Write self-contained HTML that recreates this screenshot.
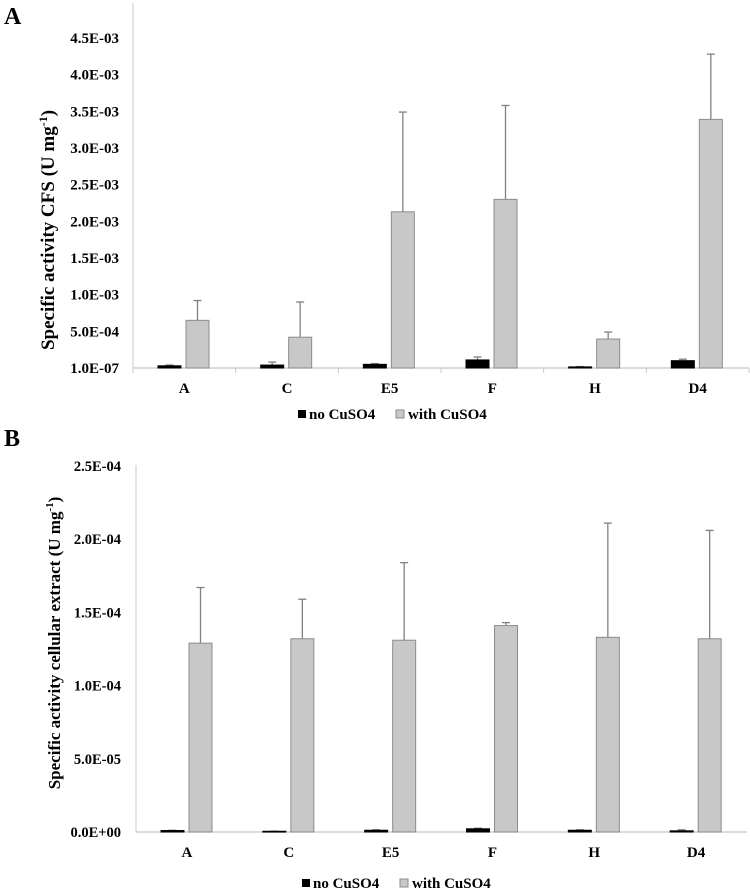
<!DOCTYPE html>
<html><head><meta charset="utf-8"><style>
body{margin:0;background:#fff;}
svg text{font-family:"Liberation Serif",serif;font-weight:bold;fill:#000;}
</style></head><body>
<svg id="chart" width="750" height="891" viewBox="0 0 750 891" xmlns="http://www.w3.org/2000/svg"></svg>
<script>
const categories=["A","C","E5","F","H","D4"];
const aNoCu=[3e-5,4e-5,5e-5,1.1e-4,1.5e-5,1.0e-4];
const aNoCuErr=[4e-5,8e-5,6e-5,1.5e-4,2e-5,1.2e-4];
const aWithCu=[6.5e-4,4.2e-4,2.13e-3,2.30e-3,3.95e-4,3.39e-3];
const aWithCuErr=[9.2e-4,9.0e-4,3.49e-3,3.58e-3,4.9e-4,4.28e-3];
const aTicks=["1.0E-07","5.0E-04","1.0E-03","1.5E-03","2.0E-03","2.5E-03","3.0E-03","3.5E-03","4.0E-03","4.5E-03"];
const bNoCu=[1e-6,5e-7,1.2e-6,2.2e-6,1.2e-6,8e-7];
const bNoCuErr=[1.2e-6,6e-7,1.5e-6,2.6e-6,1.5e-6,1.5e-6];
const bWithCu=[1.29e-4,1.32e-4,1.31e-4,1.41e-4,1.33e-4,1.32e-4];
const bWithCuErr=[1.67e-4,1.59e-4,1.84e-4,1.43e-4,2.11e-4,2.06e-4];
const bTicks=["0.0E+00","5.0E-05","1.0E-04","1.5E-04","2.0E-04","2.5E-04"];

const svg=document.getElementById('chart');
const NS="http://www.w3.org/2000/svg";
function mk(tag,attrs,parent){const e=document.createElementNS(NS,tag);for(const k in attrs)e.setAttribute(k,attrs[k]);(parent||svg).appendChild(e);return e;}

function panel(cfg){
  const g=mk('g',{});
  
  
  const {x0,x1,y0,yTop,max,step}=cfg;
  const y=v=>y0-(v/max)*(y0-yTop);
  const cw=(x1-x0)/categories.length;
  const ax=mk('line',{x1:x0,y1:cfg.axTop,x2:x0,y2:y0,stroke:'#c8c8c8','stroke-width':1},g);
  
  
  const bx=mk('line',{x1:x0,y1:y0,x2:x1,y2:y0,stroke:'#c8c8c8','stroke-width':1.2},g);
  
  
  cfg.ticks.forEach((t,i)=>{
    const tt=mk('text',{x:cfg.tickX,y:y(i*step)+5,'text-anchor':'end','font-size':cfg.tickSize},g);
    tt.textContent=t;
    
    
  });
  if(cfg.catTicks){
    for(let i=0;i<=categories.length;i++){
      mk('line',{x1:x0+i*cw,y1:y0,x2:x0+i*cw,y2:y0+5,stroke:'#c8c8c8'},g);
    }
  }
  categories.forEach((c,i)=>{
    const cx=x0+i*cw;
    const series=[[cfg.no,cfg.noErr,'#000','#000',25,'bar-no-cuso4'],[cfg.wi,cfg.wiErr,'#c8c8c8','#8c8c8c',53,'bar-with-cuso4']];
    series.forEach(([vals,errs,fill,stroke,off,nm])=>{
      const v=vals[i],e=errs[i];
      const ex=cx+off+11.5;
      const el=mk('line',{x1:ex,y1:y(v),x2:ex,y2:y(e),stroke:'#808080','stroke-width':1.3},g);
      
      
      mk('line',{x1:ex-4,y1:y(e),x2:ex+4,y2:y(e),stroke:'#808080','stroke-width':1.3},g);
      const r=mk('rect',{x:cx+off,y:y(v),width:23,height:Math.max(y0-y(v),0.8),fill:fill,stroke:stroke,'stroke-width':1},g);
      
      
    });
    const l=mk('text',{x:cx+cw/2,y:cfg.catY,'text-anchor':'middle','font-size':15},g);
    l.textContent=c;
    
    
  });
  const yt=mk('text',{transform:`translate(${cfg.titleX},${cfg.titleY}) rotate(-90)`,'text-anchor':'middle','font-size':cfg.titleSize},g);
  yt.innerHTML=cfg.title;
  
  
  const lg=mk('g',{},g);
  
  
  mk('rect',{x:cfg.legX,y:cfg.legY-9,width:8,height:8,fill:'#000'},lg);
  const t1=mk('text',{x:cfg.legX+11,y:cfg.legY,'font-size':15},lg);t1.textContent='no CuSO4';
  
  
  mk('rect',{x:cfg.legX+98,y:cfg.legY-9,width:8,height:8,fill:'#c8c8c8',stroke:'#8c8c8c'},lg);
  const t2=mk('text',{x:cfg.legX+110,y:cfg.legY,'font-size':15},lg);t2.textContent='with CuSO4';
  
  
  const pl=mk('text',{x:4,y:cfg.letterY,'font-size':24},g);pl.textContent=cfg.letter;
  
  
}
panel({name:'panel-a',x0:133,x1:749,y0:368,yTop:38,axTop:3,max:4.5e-3,step:5e-4,ticks:aTicks,no:aNoCu,noErr:aNoCuErr,wi:aWithCu,wiErr:aWithCuErr,tickX:119,tickSize:15,catTicks:true,catY:393,title:'Specific activity CFS (U mg<tspan dy="-7" font-size="12">-1</tspan><tspan dy="7">)</tspan>',titleSize:19,titleX:54,titleY:230,legX:298,legY:419,letter:'A',letterY:24});
panel({name:'panel-b',x0:136,x1:747,y0:832,yTop:466,axTop:465,max:2.5e-4,step:5e-5,ticks:bTicks,no:bNoCu,noErr:bNoCuErr,wi:bWithCu,wiErr:bWithCuErr,tickX:121,tickSize:14.5,catTicks:false,catY:857,title:'Specific activity cellular extract (U mg<tspan dy="-7" font-size="11">-1</tspan><tspan dy="7">)</tspan>',titleSize:17,titleX:60,titleY:643,legX:302,legY:888,letter:'B',letterY:446});
</script>
</body></html>
